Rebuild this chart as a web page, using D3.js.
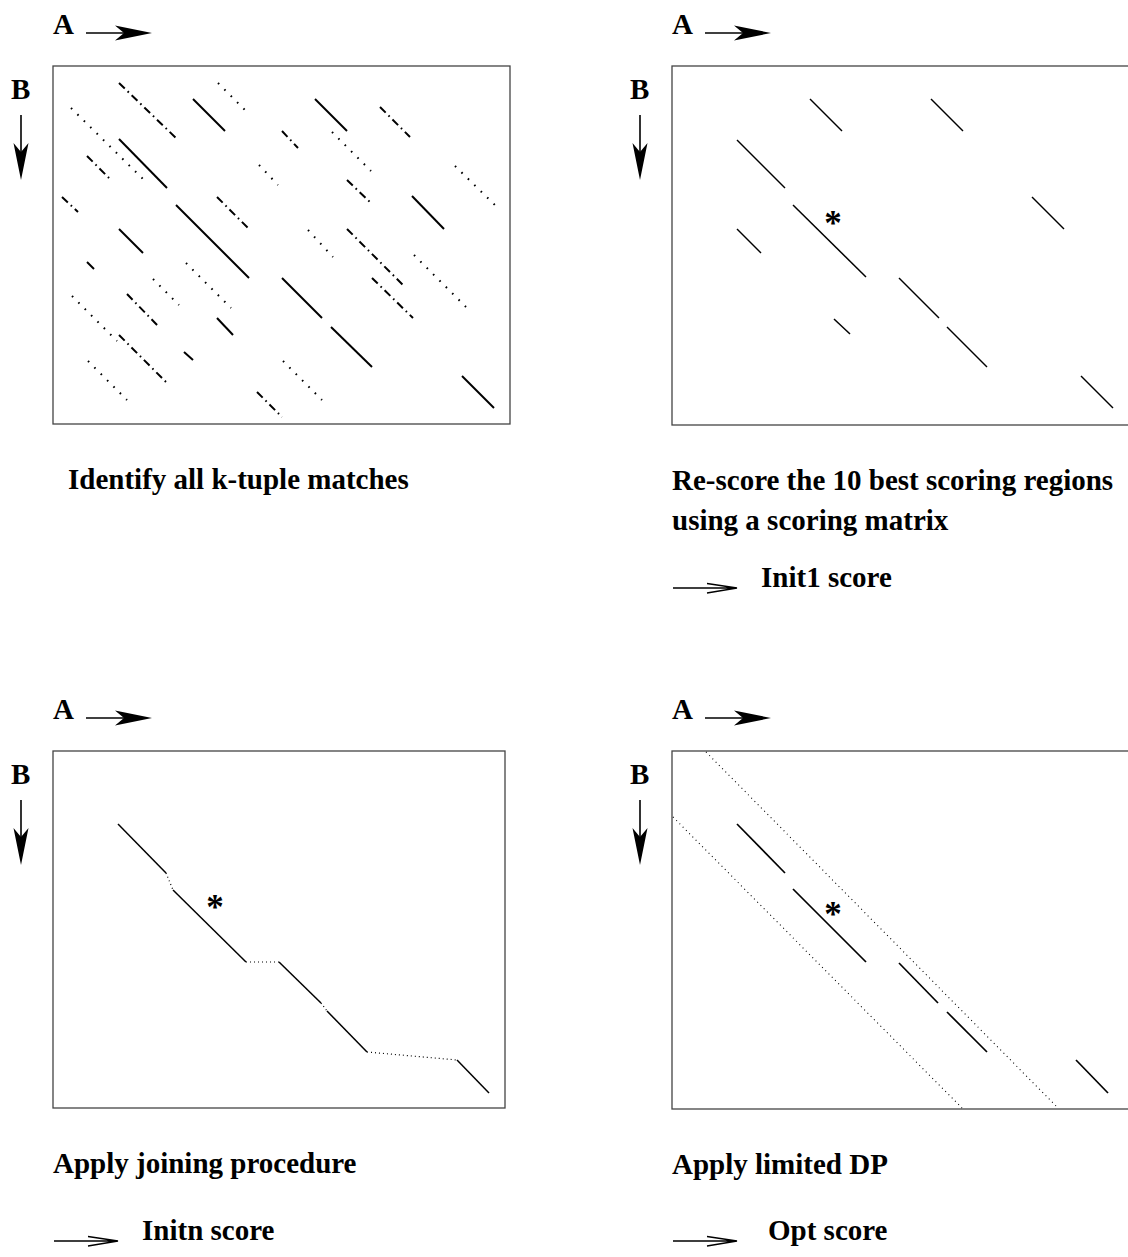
<!DOCTYPE html>
<html>
<head>
<meta charset="utf-8">
<script src="https://cdn.jsdelivr.net/npm/d3@7"></script>
<style>
  body { margin: 0; background: #fff; }
  text { font-family: "Liberation Serif", "Times New Roman", serif; font-weight: bold; fill: #000; }
</style>
</head>
<body>
<div id="chart"></div>
<script>
// diagonals as [a0, b0, a1, b1] : position on sequence A (across) and B (down)
const ktupleSolid = [
  [140, 33, 172, 65], [66, 73, 114, 122], [123, 139, 196, 212], [66, 163, 90, 187],
  [262, 33, 294, 65], [359, 130, 391, 163], [229, 212, 269, 252], [278, 261, 319, 301],
  [409, 310, 441, 342], [34, 196, 41, 203], [164, 252, 180, 269], [131, 286, 140, 294]
];
const ktupleDotted = [
  [165, 17, 192, 44], [18, 42, 90, 113], [206, 99, 225, 119], [279, 66, 318, 105],
  [402, 100, 447, 144], [255, 164, 280, 191], [361, 189, 413, 241], [230, 295, 269, 334],
  [133, 197, 178, 242], [100, 213, 126, 239], [19, 230, 64, 275], [35, 295, 74, 334]
];
const ktupleDashDot = [
  [66, 17, 123, 72], [34, 90, 58, 114], [9, 131, 25, 146], [164, 131, 196, 163],
  [327, 41, 357, 71], [229, 65, 245, 82], [294, 114, 319, 138], [294, 163, 351, 220],
  [319, 212, 360, 252], [204, 326, 229, 351], [74, 228, 106, 261], [66, 269, 115, 318]
];
const initRegions = [
  [138, 33, 170, 65], [259, 33, 291, 65], [65, 74, 113, 122], [121, 139, 194, 211],
  [65, 163, 89, 187], [360, 131, 392, 163], [227, 212, 267, 252], [162, 253, 178, 268],
  [275, 261, 315, 301], [409, 310, 441, 342]
];
const joinedRuns = [
  [65, 73, 113, 122], [120, 139, 193, 211], [226, 211, 268, 252],
  [274, 260, 314, 301], [404, 309, 436, 342]
];
const joinGaps = [
  [113, 122, 120, 139], [193, 211, 226, 211], [268, 252, 274, 260], [314, 301, 404, 309]
];
const optRegions = [
  [65, 73, 113, 122], [121, 138, 194, 211], [227, 212, 266, 252],
  [275, 261, 315, 301], [404, 309, 436, 342]
];
const bandEdges = [
  [34, 1, 386, 357], [1, 66, 290, 357]
];
// best initial region marker per panel (panels 2..4)
const bestMark = [[161, 151], [162, 150], [161, 157]];

const captionLines = [
  ["Identify all k-tuple matches"],
  ["Re-score the 10 best scoring regions", "using a scoring matrix"],
  ["Apply joining procedure"],
  ["Apply limited DP"]
];
const scoreLabels = [null, "Init1 score", "Initn score", "Opt score"];

// layout
const W = 1128, H = 1257;
const FS = 29;
const boxes = [
  { x: 53, y: 66, w: 457, h: 358 },
  { x: 672, y: 66, w: 457, h: 359 },
  { x: 53, y: 751, w: 452, h: 357 },
  { x: 672, y: 751, w: 457, h: 358 }
];
const capPos = [
  { x: 68, y: [489] },
  { x: 672, y: [490, 530], arrowY: 588, textX: 761 },
  { x: 53, y: [1173], arrowY: 1241, textX: 142 },
  { x: 672, y: [1174], arrowY: 1241, textX: 768 }
];

const svg = d3.select("#chart").append("svg")
  .attr("width", W)
  .attr("height", H);

function drawSegs(g, x, y, segs, opts) {
  g.selectAll(null)
    .data(segs)
    .join("line")
    .attr("x1", d => x(d[0]))
    .attr("y1", d => y(d[1]))
    .attr("x2", d => x(d[2]))
    .attr("y2", d => y(d[3]))
    .attr("stroke", "#000")
    .attr("stroke-width", opts.w)
    .attr("stroke-dasharray", opts.dash || null);
}

boxes.forEach((b, i) => {
  const g = svg.append("g");
  const x = d3.scaleLinear().domain([0, b.w]).range([b.x, b.x + b.w]);
  const y = d3.scaleLinear().domain([0, b.h]).range([b.y, b.y + b.h]);

  g.append("rect")
    .attr("x", b.x).attr("y", b.y)
    .attr("width", b.w).attr("height", b.h)
    .attr("fill", "none")
    .attr("stroke", "#444")
    .attr("stroke-width", 1.3);

  // A label + arrow
  g.append("text").attr("x", b.x).attr("y", b.y - 32)
    .attr("font-size", FS).text("A");
  const ay = b.y - 33, ax0 = b.x + 33, ax1 = b.x + 99;
  g.append("line").attr("x1", ax0).attr("y1", ay).attr("x2", ax1 - 20).attr("y2", ay)
    .attr("stroke", "#000").attr("stroke-width", 1.6);
  g.append("path")
    .attr("d", `M${ax1},${ay} L${ax1 - 37},${ay - 7.5} L${ax1 - 28},${ay} L${ax1 - 37},${ay + 7.5} Z`)
    .attr("fill", "#000");

  // B label + arrow
  g.append("text").attr("x", b.x - 42).attr("y", b.y + 33)
    .attr("font-size", FS).text("B");
  const bx = b.x - 32, by0 = b.y + 49, by1 = b.y + 114;
  g.append("line").attr("x1", bx).attr("y1", by0).attr("x2", bx).attr("y2", by1 - 20)
    .attr("stroke", "#000").attr("stroke-width", 1.6);
  g.append("path")
    .attr("d", `M${bx},${by1} L${bx - 7.5},${by1 - 37} L${bx},${by1 - 28} L${bx + 7.5},${by1 - 37} Z`)
    .attr("fill", "#000");

  if (i === 0) {
    drawSegs(g, x, y, ktupleDotted, { w: 2, dash: "1.6,7.4" });
    drawSegs(g, x, y, ktupleDashDot, { w: 2, dash: "8,4,1.6,4" });
    drawSegs(g, x, y, ktupleSolid, { w: 2 });
  } else if (i === 1) {
    drawSegs(g, x, y, initRegions, { w: 1.5 });
  } else if (i === 2) {
    drawSegs(g, x, y, joinGaps, { w: 1.2, dash: "1,3" });
    drawSegs(g, x, y, joinedRuns, { w: 1.5 });
  } else {
    drawSegs(g, x, y, bandEdges, { w: 1.1, dash: "1,3.6" });
    drawSegs(g, x, y, optRegions, { w: 1.7 });
  }

  if (i > 0) {
    const m = bestMark[i - 1];
    g.append("text")
      .attr("x", x(m[0])).attr("y", y(m[1]) + 18)
      .attr("text-anchor", "middle")
      .attr("font-size", 35)
      .text("*");
  }

  // captions
  const c = capPos[i];
  captionLines[i].forEach((t, k) => {
    g.append("text").attr("x", c.x).attr("y", c.y[k])
      .attr("font-size", FS).text(t);
  });
  if (scoreLabels[i]) {
    const sy = c.arrowY, sx0 = c.x + 1, sx1 = c.x + 65;
    g.append("path")
      .attr("d", `M${sx0},${sy} L${sx1},${sy} M${sx1 - 30},${sy - 4.5} L${sx1},${sy} L${sx1 - 30},${sy + 5}`)
      .attr("fill", "none")
      .attr("stroke", "#000")
      .attr("stroke-width", 1.3);
    g.append("text").attr("x", c.textX).attr("y", sy - 1)
      .attr("font-size", FS).text(scoreLabels[i]);
  }
});
</script>
</body>
</html>
